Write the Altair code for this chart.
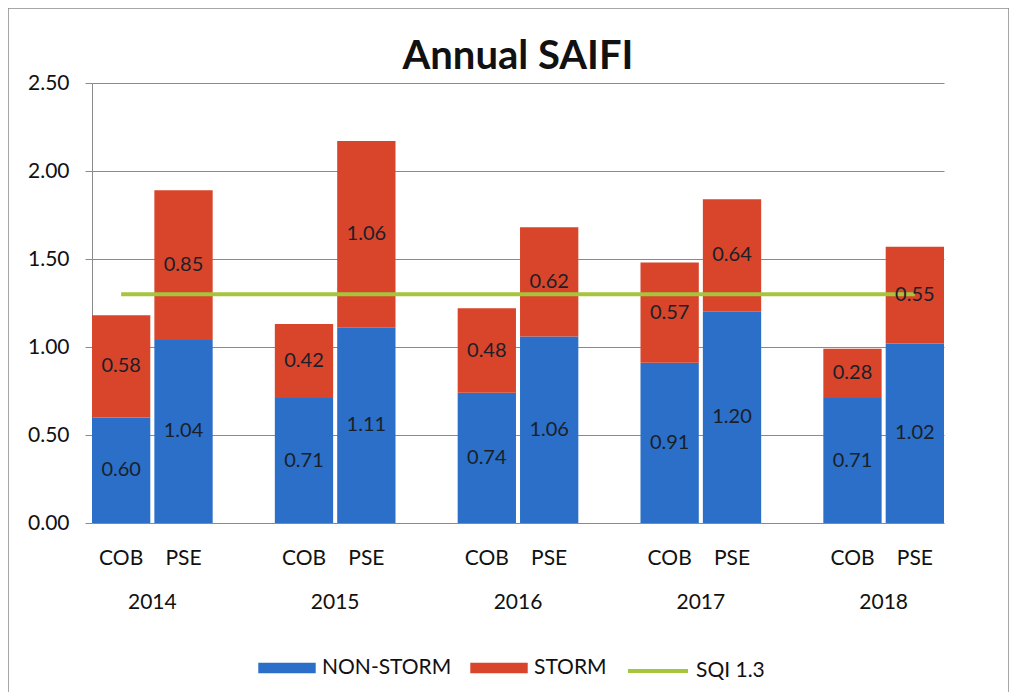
import altair as alt
import pandas as pd

years = ["2014", "2015", "2016", "2017", "2018"]
companies = ["COB", "PSE"]
non_storm = [0.60, 1.04, 0.71, 1.11, 0.74, 1.06, 0.91, 1.20, 0.71, 1.02]
storm = [0.58, 0.85, 0.42, 1.06, 0.48, 0.62, 0.57, 0.64, 0.28, 0.55]
sqi_value = 1.3
series_names = ["NON-STORM", "STORM"]
series_colors = ["#2b6fc8", "#d8452b"]
sqi_label = "SQI 1.3"
sqi_color = "#a6c43c"
y_ticks = [0, 0.5, 1.0, 1.5, 2.0, 2.5]

FONT = "Lato"

rows = []
i = 0
for yr in years:
    for co in companies:
        ns = non_storm[i]
        st = storm[i]
        rows.append(dict(year=yr, company=co, series=series_names[0], value=ns,
                         order=0, mid=ns / 2, label=f"{ns:.2f}"))
        rows.append(dict(year=yr, company=co, series=series_names[1], value=st,
                         order=1, mid=ns + st / 2, label=f"{st:.2f}"))
        i += 1
df = pd.DataFrame(rows)
cat_df = pd.DataFrame([{"year": yr, "company": co} for yr in years for co in companies])
sqi_df = pd.DataFrame([{"year": yr, "company": co, "sqi": sqi_value, "name": sqi_label}
                       for yr in years for co in companies])

W, H = 852, 440

x_enc = alt.X("year:N", sort=years,
              scale=alt.Scale(paddingInner=0.34, paddingOuter=0),
              axis=alt.Axis(title=None, labelAngle=0, ticks=False, domain=False,
                            labelPadding=68, labelFontSize=21, labelFont=FONT,
                            labelColor="#111"))
xo_enc = alt.XOffset("company:N", sort=companies,
                     scale=alt.Scale(paddingInner=0.065, paddingOuter=0))
y_scale = alt.Scale(domain=[0, 2.5])

frame = alt.Chart(pd.DataFrame({"a": [0]})).mark_rect(
    fill="white", fillOpacity=0, stroke="#8a8a8a", strokeWidth=1.5
).encode(x=alt.value(-84), x2=alt.value(917), y=alt.value(-75), y2=alt.value(612))

bars = alt.Chart(df).mark_bar().encode(
    x=x_enc,
    xOffset=xo_enc,
    y=alt.Y("value:Q", stack="zero", scale=y_scale,
            axis=alt.Axis(title=None, values=y_ticks, format=".2f",
                          labelFontSize=21, labelFont=FONT, labelColor="#111",
                          tickSize=7, tickColor="#8a8a8a", labelPadding=16,
                          domainColor="#8a8a8a", gridColor="#8a8a8a",
                          gridWidth=1.2)),
    color=alt.Color("series:N", sort=series_names,
                    scale=alt.Scale(domain=series_names, range=series_colors),
                    legend=alt.Legend(title=None, orient="none", direction="horizontal",
                                      legendX=166, legendY=556,
                                      symbolType="M-1,-0.18H1V0.18H-1Z",
                                      symbolSize=3300, symbolStrokeWidth=0,
                                      labelFontSize=21, labelFont=FONT,
                                      labelColor="#111", columnPadding=18,
                                      labelOffset=6)),
    order=alt.Order("order:Q", sort="ascending"),
)

labels = alt.Chart(df).mark_text(fontSize=20, font=FONT, color="#1a1f28").encode(
    x=x_enc, xOffset=xo_enc,
    y=alt.Y("mid:Q", scale=y_scale),
    text="label:N",
)

comp_text = alt.Chart(cat_df).mark_text(fontSize=21, font=FONT, color="#111",
                                        baseline="middle").encode(
    x=x_enc, xOffset=xo_enc, y=alt.value(476), text="company:N"
)

line = alt.Chart(sqi_df).mark_line(strokeWidth=4).encode(
    x=x_enc, xOffset=xo_enc,
    y=alt.Y("sqi:Q", scale=y_scale),
    color=alt.Color("name:N", scale=alt.Scale(domain=[sqi_label], range=[sqi_color]),
                    legend=alt.Legend(title=None, orient="none", legendX=534,
                                      legendY=556, symbolType="stroke",
                                      symbolSize=3600, symbolStrokeWidth=4,
                                      labelFontSize=21, labelFont=FONT,
                                      labelColor="#111", labelOffset=6)),
)

chart = alt.layer(frame, bars, line, labels, comp_text).resolve_scale(
    color="independent"
).properties(
    width=W, height=H,
    title=alt.Title("Annual SAIFI", fontSize=40, font=FONT, fontWeight="bold",
                    anchor="middle", frame="group", offset=-70, color="#111"),
    autosize=alt.AutoSizeParams(type="none"),
    padding={"left": 84, "top": 75, "right": 65, "bottom": 169},
).configure_view(stroke=None)

chart.save("out.html", embed_options={"renderer": "svg", "actions": False})
